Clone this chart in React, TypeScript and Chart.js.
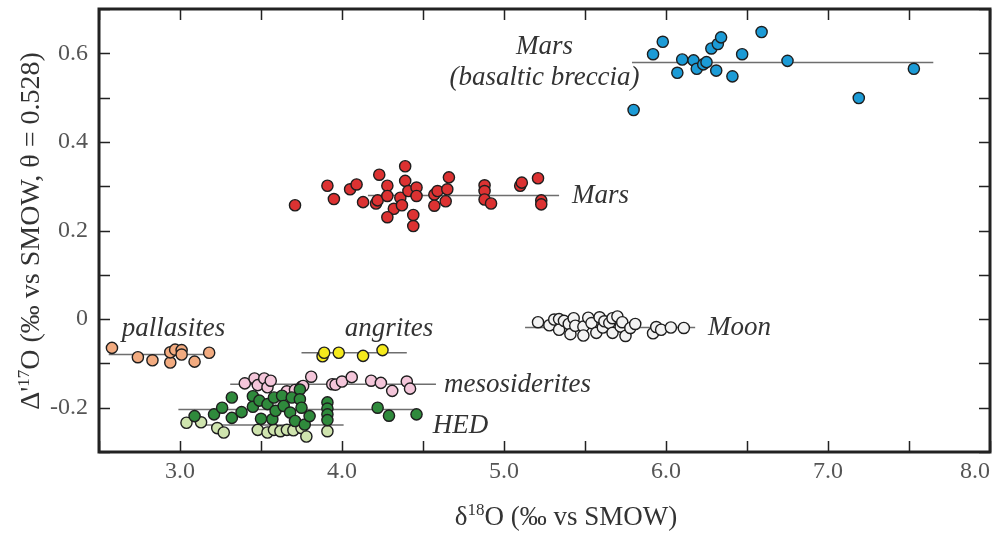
import React, { useEffect, useRef } from 'react';
import { Chart, registerables } from 'chart.js';
Chart.register(...registerables);

// ---- data: [δ18O, Δ'17O] ----
const marsBreccia: [number, number][] = [
  [5.80, 0.472], [5.92, 0.598], [5.98, 0.626], [6.07, 0.556], [6.10, 0.586], [6.17, 0.584],
  [6.19, 0.565], [6.23, 0.575], [6.25, 0.580], [6.28, 0.611], [6.32, 0.621], [6.34, 0.636],
  [6.31, 0.561], [6.41, 0.548], [6.47, 0.598], [6.59, 0.648], [6.75, 0.583], [7.19, 0.499],
  [7.53, 0.565],
];
const mars: [number, number][] = [
  [3.71, 0.257], [3.91, 0.301], [3.95, 0.271], [4.05, 0.293], [4.09, 0.304], [4.13, 0.264],
  [4.21, 0.261], [4.22, 0.268], [4.23, 0.326], [4.28, 0.301], [4.28, 0.278], [4.32, 0.249],
  [4.28, 0.230], [4.36, 0.274], [4.37, 0.257], [4.39, 0.345], [4.39, 0.312], [4.41, 0.289],
  [4.44, 0.235], [4.44, 0.210], [4.46, 0.297], [4.46, 0.278], [4.57, 0.281], [4.57, 0.256],
  [4.59, 0.289], [4.64, 0.266], [4.65, 0.293], [4.66, 0.320], [4.88, 0.302], [4.88, 0.289],
  [4.88, 0.270], [4.92, 0.261], [5.10, 0.301], [5.11, 0.308], [5.21, 0.318], [5.23, 0.268],
  [5.23, 0.259],
];
const moon: [number, number][] = [
  [5.21, -0.007], [5.28, -0.014], [5.31, -0.001], [5.34, 0.000], [5.34, -0.024], [5.37, -0.004],
  [5.40, -0.011], [5.41, -0.034], [5.43, 0.002], [5.44, -0.015], [5.49, -0.017], [5.49, -0.037],
  [5.52, 0.003], [5.54, -0.009], [5.57, -0.031], [5.59, 0.004], [5.61, -0.019], [5.62, -0.005],
  [5.65, -0.009], [5.67, 0.002], [5.67, -0.031], [5.70, 0.006], [5.72, -0.017], [5.73, -0.007],
  [5.75, -0.038], [5.78, -0.020], [5.81, -0.011], [5.92, -0.032], [5.94, -0.018], [5.97, -0.024],
  [6.03, -0.019], [6.11, -0.020],
];
const pallasites: [number, number][] = [
  [2.58, -0.065], [2.74, -0.086], [2.83, -0.093], [2.94, -0.098], [2.94, -0.075], [2.97, -0.069],
  [3.01, -0.070], [3.01, -0.080], [3.09, -0.096], [3.18, -0.076],
];
const angrites: [number, number][] = [
  [3.88, -0.084], [3.89, -0.076], [3.98, -0.076], [4.13, -0.083], [4.25, -0.070],
];
const mesosiderites: [number, number][] = [
  [3.40, -0.145], [3.46, -0.134], [3.48, -0.149], [3.52, -0.134], [3.54, -0.154], [3.56, -0.139],
  [3.66, -0.163], [3.71, -0.160], [3.75, -0.153], [3.76, -0.151], [3.81, -0.130], [3.94, -0.147],
  [3.96, -0.148], [4.00, -0.141], [4.06, -0.131], [4.18, -0.139], [4.24, -0.144], [4.31, -0.162],
  [4.40, -0.141], [4.42, -0.157],
];
const hedDark: [number, number][] = [
  [3.09, -0.219], [3.21, -0.215], [3.26, -0.200], [3.32, -0.177], [3.32, -0.223], [3.38, -0.210],
  [3.45, -0.174], [3.45, -0.198], [3.49, -0.184], [3.50, -0.225], [3.54, -0.192], [3.57, -0.226],
  [3.58, -0.177], [3.59, -0.207], [3.63, -0.173], [3.64, -0.196], [3.68, -0.211], [3.69, -0.177],
  [3.71, -0.230], [3.74, -0.159], [3.74, -0.181], [3.75, -0.200], [3.77, -0.238], [3.80, -0.219],
  [3.91, -0.188], [3.91, -0.202], [3.91, -0.215], [3.91, -0.228], [4.22, -0.200], [4.29, -0.218],
  [4.46, -0.215],
];
const hedLight: [number, number][] = [
  [3.04, -0.234], [3.13, -0.233], [3.23, -0.246], [3.27, -0.256], [3.48, -0.250], [3.54, -0.256],
  [3.58, -0.250], [3.62, -0.253], [3.66, -0.250], [3.70, -0.251], [3.75, -0.246], [3.78, -0.265],
  [3.91, -0.253],
];
// mean lines: [xStart, xEnd, y]
const meanLines: [number, number, number][] = [
  [5.79, 7.65, 0.579],
  [4.16, 5.34, 0.279],
  [5.13, 6.18, -0.019],
  [2.56, 3.16, -0.080],
  [3.75, 4.40, -0.076],
  [3.31, 4.58, -0.147],
  [2.99, 4.46, -0.204],
  [3.13, 4.01, -0.239],
];
// group labels: [text, x, y, align]
const groupLabels: [string, number, number, CanvasTextAlign][] = [
  ['Mars', 5.25, 0.614, 'center'],
  ['(basaltic breccia)', 5.25, 0.545, 'center'],
  ['Mars', 5.42, 0.279, 'left'],
  ['Moon', 6.26, -0.019, 'left'],
  ['pallasites', 2.96, -0.023, 'center'],
  ['angrites', 4.29, -0.023, 'center'],
  ['mesosiderites', 4.63, -0.149, 'left'],
  ['HED', 4.56, -0.241, 'left'],
];
const xMin = 2.5, xMax = 8.0, xStep = 0.5;
const yMin = -0.3, yMax = 0.7, yStep = 0.1;

const SERIF = '"Liberation Serif", "Times New Roman", serif';

type Part = { t: string; sup?: boolean };
function drawRich(ctx: CanvasRenderingContext2D, parts: Part[], cx: number, cy: number, rot: number, size: number) {
  const mainFont = `${size}px ${SERIF}`;
  const supSize = Math.round(size * 0.62);
  const supFont = `${supSize}px ${SERIF}`;
  let total = 0;
  const widths = parts.map(p => {
    ctx.font = p.sup ? supFont : mainFont;
    const w = ctx.measureText(p.t).width;
    total += w;
    return w;
  });
  ctx.save();
  ctx.translate(cx, cy);
  ctx.rotate(rot);
  ctx.textBaseline = 'alphabetic';
  ctx.textAlign = 'left';
  ctx.fillStyle = '#333';
  const base = size * 0.33;
  let x = -total / 2;
  parts.forEach((p, i) => {
    ctx.font = p.sup ? supFont : mainFont;
    ctx.fillText(p.t, x, p.sup ? base - size * 0.36 : base);
    x += widths[i];
  });
  ctx.restore();
}

const decorPlugin = {
  id: 'decor',
  afterDatasetsDraw(chart: any) {
    const { ctx, chartArea, scales } = chart;
    const { left, right, top, bottom } = chartArea;
    const xs = scales.x, ys = scales.y;
    ctx.save();
    ctx.strokeStyle = '#222';
    ctx.lineWidth = 1.5;
    const tl = 11;
    ctx.beginPath();
    xs.ticks.forEach((t: any) => {
      const p = Math.round(xs.getPixelForValue(t.value)) + 0.5;
      ctx.moveTo(p, bottom); ctx.lineTo(p, bottom - tl);
      ctx.moveTo(p, top); ctx.lineTo(p, top + tl);
    });
    ys.ticks.forEach((t: any) => {
      const p = Math.round(ys.getPixelForValue(t.value)) + 0.5;
      ctx.moveTo(left, p); ctx.lineTo(left + tl, p);
      ctx.moveTo(right, p); ctx.lineTo(right - tl, p);
    });
    ctx.stroke();
    ctx.lineWidth = 3;
    ctx.strokeRect(left, top, right - left, bottom - top);

    ctx.fillStyle = '#333';
    ctx.font = `italic 27px ${SERIF}`;
    ctx.textBaseline = 'middle';
    groupLabels.forEach(([text, x, y, align]) => {
      ctx.textAlign = align;
      ctx.fillText(text, xs.getPixelForValue(x), ys.getPixelForValue(y));
    });
    ctx.restore();

    drawRich(ctx, [{ t: 'δ' }, { t: '18', sup: true }, { t: 'O (‰ vs SMOW)' }], 566, 516, 0, 27);
    drawRich(ctx, [{ t: "Δ'" }, { t: '17', sup: true }, { t: 'O (‰ vs SMOW, θ = 0.528)' }], 30, 231, -Math.PI / 2, 28);
  },
};

function pts(arr: [number, number][]) {
  return arr.map(([x, y]) => ({ x, y }));
}

export default function App() {
  const ref = useRef<HTMLCanvasElement | null>(null);
  useEffect(() => {
    if (!ref.current) return;
    const scatter = (data: [number, number][], fill: string, order: number) => ({
      type: 'scatter' as const,
      data: pts(data),
      backgroundColor: fill,
      borderColor: '#1e1e1e',
      borderWidth: 1.4,
      pointRadius: 5.6,
      order,
    });
    const lineSets = meanLines.map(([x0, x1, y]) => ({
      type: 'line' as const,
      data: [{ x: x0, y }, { x: x1, y }],
      borderColor: '#6e6e6e',
      borderWidth: 1.5,
      pointRadius: 0,
      showLine: true,
      fill: false,
      order: 20,
    }));
    const chart = new Chart(ref.current, {
      type: 'scatter',
      data: {
        datasets: [
          ...lineSets,
          scatter(mesosiderites, '#f4c6da', 8),
          scatter(angrites, '#f5ea1c', 7),
          scatter(pallasites, '#f2ab80', 7),
          scatter(hedLight, '#cfe4ae', 6),
          scatter(hedDark, '#2f8a3c', 5),
          scatter(moon, '#f3f3f3', 5),
          scatter(mars, '#dc3232', 5),
          scatter(marsBreccia, '#1c9bd6', 5),
        ] as any,
      },
      options: {
        animation: false,
        responsive: true,
        maintainAspectRatio: false,
        layout: { padding: { top: 9, right: 10, left: 0, bottom: 0 } },
        plugins: { legend: { display: false }, tooltip: { enabled: false } },
        scales: {
          x: {
            type: 'linear',
            min: xMin,
            max: xMax,
            afterFit: (s: any) => { s.height = 87; s.paddingLeft = 0; s.paddingRight = 0; },
            grid: { display: false, drawTicks: false },
            border: { display: false },
            ticks: {
              stepSize: xStep,
              autoSkip: false,
              maxRotation: 0,
              align: 'inner',
              padding: 5,
              color: '#555',
              font: { family: SERIF, size: 24 },
              callback: (v: any) => {
                const n = Number(v);
                return Math.abs(n - Math.round(n)) < 1e-6 ? n.toFixed(1) : '';
              },
            },
          },
          y: {
            type: 'linear',
            min: yMin,
            max: yMax,
            afterFit: (s: any) => { s.width = 99; s.paddingTop = 0; s.paddingBottom = 0; },
            grid: { display: false, drawTicks: false },
            border: { display: false },
            ticks: {
              stepSize: yStep,
              autoSkip: false,
              padding: 11,
              color: '#555',
              font: { family: SERIF, size: 24 },
              callback: (v: any) => {
                const r = Math.round(Number(v) * 10);
                if (r % 2 !== 0) return '';
                if (r === 0) return '0';
                return (r / 10).toFixed(1);
              },
            },
          },
        },
      } as any,
      plugins: [decorPlugin],
    });
    return () => chart.destroy();
  }, []);
  return (
    <div style={{ position: 'absolute', left: 0, top: 0, width: 1000, height: 539, background: '#fff' }}>
      <canvas ref={ref} />
    </div>
  );
}
